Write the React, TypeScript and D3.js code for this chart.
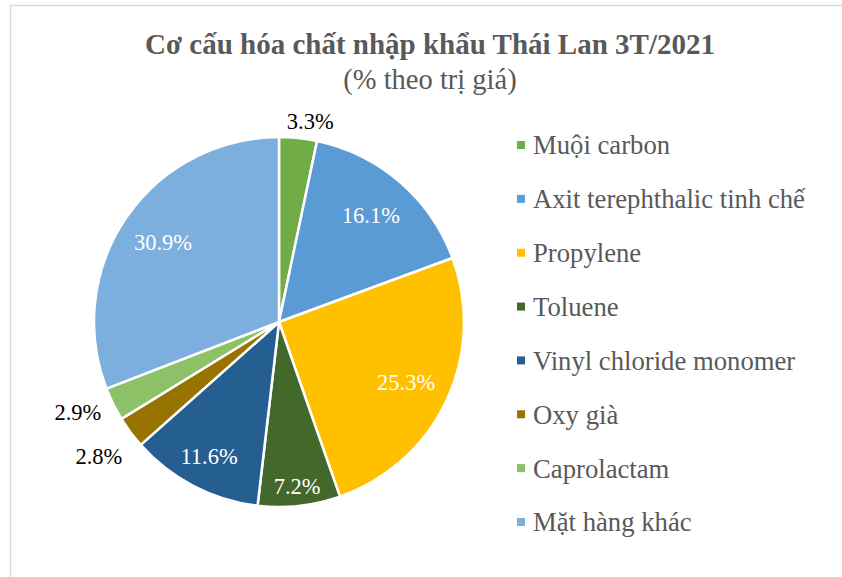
import React from "react";
import * as d3 from "d3";

const categories = [
  "Muội carbon",
  "Axit terephthalic tinh chế",
  "Propylene",
  "Toluene",
  "Vinyl chloride monomer",
  "Oxy già",
  "Caprolactam",
  "Mặt hàng khác",
];
const values = [3.3, 16.1, 25.3, 7.2, 11.6, 2.8, 2.9, 30.9];
const colors = ["#70AD47", "#5B9BD5", "#FFC000", "#43682B", "#255E91", "#997300", "#8CC168", "#7CAFDD"];
const titleText = "Cơ cấu hóa chất nhập khẩu Thái Lan 3T/2021";
const subtitleText = "(% theo trị giá)";

const W = 842;
const H = 577;
const cx = 279;
const cy = 322;
const R = 185;
const SERIF = "Liberation Serif, Times New Roman, serif";

export default function App() {
  const data = categories.map((c, i) => ({ name: c, value: values[i], color: colors[i] }));
  const pie = d3
    .pie<any>()
    .value((d: any) => d.value)
    .sort(null)
    .startAngle(0)
    .endAngle(2 * Math.PI);
  const arcs = pie(data);
  const arcGen = d3.arc<any>().innerRadius(0).outerRadius(R);

  const labelFont = 22.5;
  const fmt = (v: number) => v.toFixed(1) + "%";

  const labels = arcs.map((a: any) => {
    const mid = (a.startAngle + a.endAngle) / 2;
    const s = Math.sin(mid);
    const c = Math.cos(mid);
    const v = a.data.value;
    if (v < 5) {
      const w = fmt(v).length * 0.52 * labelFont;
      const h = labelFont;
      return {
        inside: false,
        x: cx + (R + 16 + w / 2) * s + (s > 0 ? 8 : 0),
        y: cy - (R + 6 + h / 2) * c,
        side: s < 0 ? "left" : "right",
        text: fmt(v),
      };
    }
    const f = 0.76 + Math.max(0, 15 - v) * 0.017;
    return { inside: true, x: cx + R * f * s, y: cy - R * f * c, side: "", text: fmt(v) };
  });
  const outsideLeft = labels.filter((l) => !l.inside && l.side === "left").sort((a, b) => a.y - b.y);
  for (let i = 1; i < outsideLeft.length; i++) {
    if (outsideLeft[i].y - outsideLeft[i - 1].y < 44) outsideLeft[i].y = outsideLeft[i - 1].y + 44;
  }

  const legendY = d3.scalePoint<string>().domain(categories).range([145, 522]);

  return (
    <svg width={W} height={H} style={{ position: "absolute", left: 0, top: 0, background: "#fff" }}>
      <rect x={0} y={0} width={W} height={H} fill="#fff" />
      <path d={`M10.5,${H} L10.5,5.5 L${W},5.5`} fill="none" stroke="#d9d9d9" strokeWidth={1.5} />
      <text x={430} y={54} textAnchor="middle" fontSize={29} fontWeight="bold" fill="#595959" fontFamily={SERIF}>
        {titleText}
      </text>
      <text x={430} y={89} textAnchor="middle" fontSize={28.5} fill="#595959" fontFamily={SERIF}>
        {subtitleText}
      </text>
      <g>
        {arcs.map((a: any, i: number) => (
          <path
            key={i}
            d={arcGen(a) as string}
            transform={`translate(${cx},${cy})`}
            fill={a.data.color}
            stroke="#fff"
            strokeWidth={2.5}
            strokeLinejoin="round"
          />
        ))}
      </g>
      <g>
        {labels.map((l, i) => (
          <text
            key={i}
            x={l.x}
            y={l.y}
            dy="0.35em"
            textAnchor="middle"
            fontSize={labelFont}
            fontFamily={SERIF}
            fill={l.inside ? "#ffffff" : "#000000"}
          >
            {l.text}
          </text>
        ))}
      </g>
      <g>
        {categories.map((c, i) => (
          <g key={c} transform={`translate(0,${legendY(c)})`}>
            <rect x={517} y={-4} width={8} height={8} fill={colors[i]} />
            <text x={533} y={0} dy="0.35em" fontSize={26.7} fill="#595959" fontFamily={SERIF}>
              {c}
            </text>
          </g>
        ))}
      </g>
    </svg>
  );
}
